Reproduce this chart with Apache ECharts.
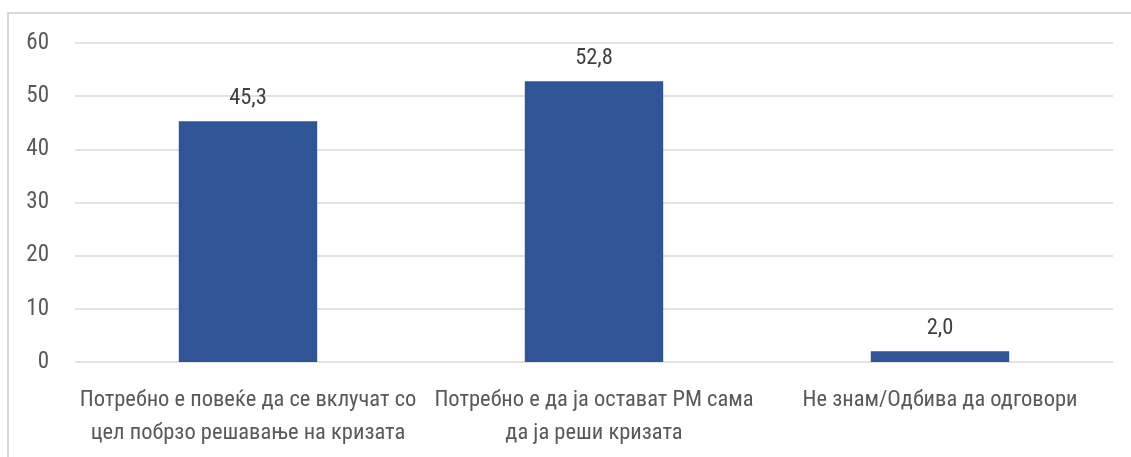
<!DOCTYPE html>
<html><head><meta charset="utf-8">
<script src="https://cdn.jsdelivr.net/npm/echarts@6/dist/echarts.min.js"></script>
<style>html,body{margin:0;padding:0;background:#fff}#c{width:1131px;height:457px}</style>
</head><body><div id="c"></div>
<script>
const categories = ['Потребно е повеќе да се вклучат со\nцел побрзо решавање на кризата', 'Потребно е да ја остават РМ сама\nда ја реши кризата', 'Не знам/Одбива да одговори'];
const values = [45.3, 52.8, 2.0];
const yTicks = {min: 0, max: 60, interval: 10};
const FONT = '"Liberation Sans Narrow", "Roboto Condensed", "Arial Narrow", Roboto, sans-serif';
const chart = echarts.init(document.getElementById('c'));
chart.setOption({
  animation: false,
  textStyle: {fontFamily: FONT},
  graphic: [{type: 'rect', shape: {x: 8, y: 13, width: 1140, height: 470}, style: {fill: 'none', stroke: '#d9d9d9', lineWidth: 2}, silent: true}],
  grid: {left: 75, right: 18, top: 43, bottom: 95},
  xAxis: {type: 'category', data: categories,
    axisLine: {show: false}, axisTick: {show: false},
    axisLabel: {color: '#595959', fontSize: 22.5, fontFamily: FONT, lineHeight: 33, margin: 22, interval: 0}},
  yAxis: {type: 'value', min: yTicks.min, max: yTicks.max, interval: yTicks.interval,
    axisLine: {show: false}, axisTick: {show: false},
    axisLabel: {color: '#595959', fontSize: 23, fontFamily: FONT, margin: 26, align: 'right'},
    splitLine: {lineStyle: {color: '#d9d9d9', width: 1.5}}},
  series: [{type: 'bar', data: values, barWidth: '40%',
    itemStyle: {color: '#2F5597'},
    label: {show: true, position: 'top', distance: 11, color: '#404040', fontSize: 22.5, fontFamily: FONT,
      formatter: p => p.value.toFixed(1).replace('.', ',')}}]
});
</script></body></html>
